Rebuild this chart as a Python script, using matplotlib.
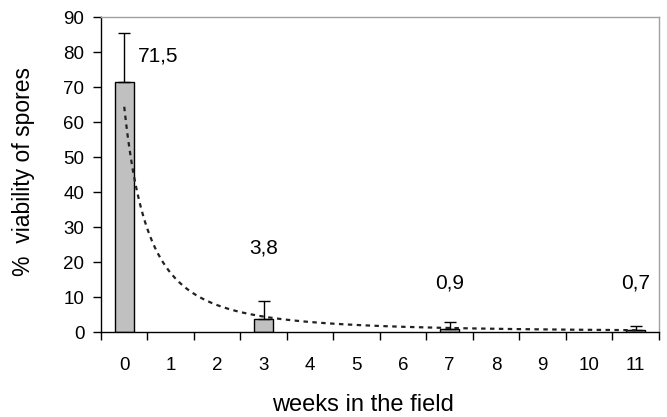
import numpy as np
import matplotlib
matplotlib.use("Agg")
import matplotlib.pyplot as plt

categories = ["0", "1", "2", "3", "4", "5", "6", "7", "8", "9", "10", "11"]
bar_weeks = [0, 3, 7, 11]
bar_values = [71.5, 3.8, 0.9, 0.7]
err_upper = [14.0, 5.1, 1.9, 1.1]
bar_labels = ["71,5", "3,8", "0,9", "0,7"]
yticks = [0, 10, 20, 30, 40, 50, 60, 70, 80, 90]

plt.rcParams['font.family'] = ['Liberation Sans', 'DejaVu Sans']

fig = plt.figure(figsize=(6.67, 4.17), dpi=100)
ax = fig.add_axes([0.1514, 0.2038, 0.8366, 0.7552])

x = np.array(bar_weeks, dtype=float)
vals = np.array(bar_values)
ax.bar(x, vals, width=0.4, color="#c0c0c0", edgecolor="black", linewidth=1.0, zorder=2)
ax.errorbar(x, vals, yerr=[np.zeros_like(vals), np.array(err_upper)], fmt="none",
            ecolor="black", elinewidth=1.0, capsize=4, capthick=1.0, zorder=3)

# Power trendline (least squares on log-log, Excel x = category index + 1)
lx = np.log(x + 1)
ly = np.log(vals)
b, lna = np.polyfit(lx, ly, 1)
xt = np.linspace(0, 11, 300)
yt = np.exp(lna) * (xt + 1) ** b
ax.plot(xt, yt, color="#222222", linestyle=(0, (2.0, 2.0)), linewidth=1.6, zorder=4)

label_pos = [(0.73, 79), (3, 24), (7, 14), (11, 14)]
for (lxp, lyp), t in zip(label_pos, bar_labels):
    ax.text(lxp, lyp, t, ha="center", va="center", fontsize=15)

ax.set_xlim(-0.5, 11.5)
ax.set_ylim(0, 90)
ax.set_yticks(yticks)
ax.set_xticks(np.arange(-0.5, 12, 1.0))
ax.set_xticklabels([])
ax.set_xticks(np.arange(12), minor=True)
ax.set_xticklabels(categories, minor=True)
ax.tick_params(axis="x", which="major", direction="out", length=6, width=1)
ax.tick_params(axis="x", which="minor", length=0, pad=18, labelsize=13.5)
ax.tick_params(axis="y", direction="out", length=6, width=1, labelsize=13.5, pad=6)

for s in ["top", "right"]:
    ax.spines[s].set_color("#a0a0a0")
    ax.spines[s].set_linewidth(1.0)
for s in ["left", "bottom"]:
    ax.spines[s].set_color("black")
    ax.spines[s].set_linewidth(1.0)

fig.text(24 / 667, 1 - 172 / 417, "%  viability of spores", rotation=90,
         ha="center", va="center", fontsize=16.5)
fig.text(363 / 667, 1 - 411 / 417, "weeks in the field", ha="center",
         va="baseline", fontsize=17)

fig.savefig("out.png", dpi=100)
